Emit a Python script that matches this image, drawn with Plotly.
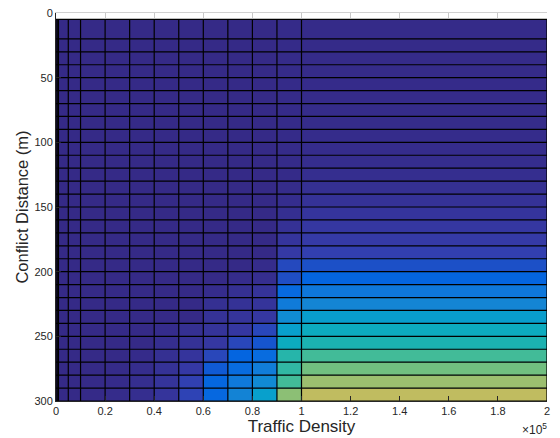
import plotly.graph_objects as go

# ---- data -------------------------------------------------------------
# Traffic density bin edges (vehicles) and conflict distance edges (m)
density_edges = [0, 500, 1000, 5000, 10000, 20000, 30000, 40000, 50000,
                 60000, 70000, 80000, 90000, 100000, 200000]
distance_edges = [5] + list(range(20, 301, 10))

x_tick_vals = [0, 20000, 40000, 60000, 80000, 100000, 120000, 140000, 160000, 180000, 200000]
x_tick_text = ["0", "0.2", "0.4", "0.6", "0.8", "1", "1.2", "1.4", "1.6", "1.8", "2"]
y_tick_vals = [0, 50, 100, 150, 200, 250, 300]

# cell values (colour level 0..63) per column (density bin), listed per row (distance bin, top->bottom)
n_rows = len(distance_edges) - 1
def col(tail, base=0.0):
    return [base] * (n_rows - len(tail)) + tail

col_0_500 = col([])
col_500_1k = col([])
col_1k_5k = col([])
col_5k_10k = col([])
col_10k_20k = col([0.1, 0.1])
col_20k_30k = col([0.2, 0.3, 0.4])
col_30k_40k = col([0.3, 0.6, 0.8, 0.8])
col_40k_50k = col([0.5, 0.8, 1.2, 1.6, 2.0, 2.1])
col_50k_60k = col([1.2, 1.6, 2.2, 3.0, 4.3, 4.6])
col_60k_70k = col([0.5, 1.2, 1.6, 2.0, 2.7, 5.0, 7.0, 8.8, 9.2])
col_70k_80k = col([0.5, 1.2, 1.6, 2.0, 2.7, 5.0, 8.5, 10.0, 13.0, 15.5])
col_80k_90k = col([0.4, 0.8, 1.8, 2.0, 2.7, 5.0, 6.5, 10.0, 14.0, 17.0, 22.0])
col_90k_100k = col([0.4, 0.7, 1.0, 1.5, 2.2, 3.2, 5.3, 5.8, 9.5, 13.5, 17.5,
                    22.0, 25.5, 29.5, 30.5, 32.0, 38.5], 0.2)
col_100k_200k = [0.2, 0.2, 0.25, 0.25, 0.3, 0.3, 0.35, 0.35, 0.4, 0.5, 0.6, 0.8,
                 1.2, 1.7, 2.2, 2.7, 3.3, 4.2, 6.0, 8.5, 12.5, 16.0, 21.5,
                 25.5, 28.5, 32.0, 36.0, 40.0, 44.0]

columns = [col_0_500, col_500_1k, col_1k_5k, col_5k_10k, col_10k_20k, col_20k_30k,
           col_30k_40k, col_40k_50k, col_50k_60k, col_60k_70k, col_70k_80k,
           col_80k_90k, col_90k_100k, col_100k_200k]
z = [[c[r] for c in columns] for r in range(n_rows)]

# parula colormap (64 entries, subsampled)
parula = [
    (0.2081, 0.1663, 0.5292), (0.2081, 0.2386, 0.6771), (0.0117, 0.3875, 0.8820),
    (0.0498, 0.4586, 0.8641), (0.0793, 0.5200, 0.8312), (0.0343, 0.5966, 0.8199),
    (0.0228, 0.6535, 0.7768), (0.0843, 0.6928, 0.7062), (0.2586, 0.7317, 0.5954),
    (0.4420, 0.7481, 0.5033), (0.6099, 0.7473, 0.4337), (0.7524, 0.7384, 0.3768),
    (0.8824, 0.7274, 0.3217), (0.9938, 0.7455, 0.2403), (0.9697, 0.8481, 0.1475),
    (0.9598, 0.9218, 0.0948), (0.9763, 0.9831, 0.0538)]
parula_idx = [0, 4, 8, 12, 16, 20, 24, 28, 32, 36, 40, 44, 48, 52, 58, 61, 63]
colorscale = [[i / 63, "rgb(%d,%d,%d)" % tuple(round(v * 255) for v in c)]
              for i, c in zip(parula_idx, parula)]

fig = go.Figure()
fig.add_trace(go.Heatmap(x=density_edges, y=distance_edges, z=z, zmin=0, zmax=63,
                         colorscale=colorscale, showscale=False, zsmooth=False,
                         hoverinfo="skip"))

# mesh edge lines
vx, vy = [], []
for xv in density_edges:
    vx += [xv, xv, None]
    vy += [distance_edges[0], distance_edges[-1], None]
hx, hy = [], []
for yv in distance_edges:
    hx += [density_edges[0], density_edges[-1], None]
    hy += [yv, yv, None]
fig.add_trace(go.Scatter(x=vx, y=vy, mode="lines", line=dict(color="#000000", width=1.2),
                         hoverinfo="skip", showlegend=False))
fig.add_trace(go.Scatter(x=hx, y=hy, mode="lines", line=dict(color="#000000", width=1.2),
                         hoverinfo="skip", showlegend=False))
# invisible trace so that the mirrored top axis is drawn
fig.add_trace(go.Scatter(x=[0, 200000], y=[0, 0], xaxis="x2", mode="lines",
                         line=dict(width=0), hoverinfo="skip", showlegend=False))

font = "Liberation Sans, Arial, Helvetica, sans-serif"
fig.update_layout(
    width=560, height=438,
    margin=dict(l=56, r=13, t=13, b=37, pad=0),
    paper_bgcolor="white", plot_bgcolor="white",
    showlegend=False,
    font=dict(family=font, color="#262626"),
    xaxis=dict(range=[0, 200000], tickvals=x_tick_vals, ticktext=x_tick_text,
               automargin=False,
               ticks="inside", ticklen=5, tickcolor="#262626", showgrid=False,
               zeroline=False, showline=True, linecolor="#262626", linewidth=1,
               mirror=False, tickfont=dict(size=11, color="#262626"),
               title=dict(text="Traffic Density", font=dict(size=17, color="#262626"),
                          standoff=2)),
    yaxis=dict(range=[300, 0], tickvals=y_tick_vals, ticks="inside", ticklen=5,
               automargin=False,
               tickcolor="#262626", showgrid=False, zeroline=False, showline=True,
               linecolor="#262626", linewidth=1, tickfont=dict(size=11, color="#262626"),
               title=dict(text="Conflict Distance (m)", font=dict(size=16.5, color="#262626"),
                          standoff=1)),
    xaxis2=dict(overlaying="x", side="top", range=[0, 200000], tickvals=x_tick_vals,
                automargin=False,
                ticks="inside", ticklen=5, tickcolor="#c8c8c8", showticklabels=False,
                showgrid=False, zeroline=False, showline=True, linecolor="#d0d0d0",
                linewidth=1),
)
fig.add_annotation(text="\u00d710<sup>5</sup>", xref="paper", yref="paper",
                   x=1.0, y=0, xshift=2, yshift=-28, xanchor="right", yanchor="middle",
                   showarrow=False, font=dict(size=12, color="#262626", family=font))

fig.write_html("out.html")
